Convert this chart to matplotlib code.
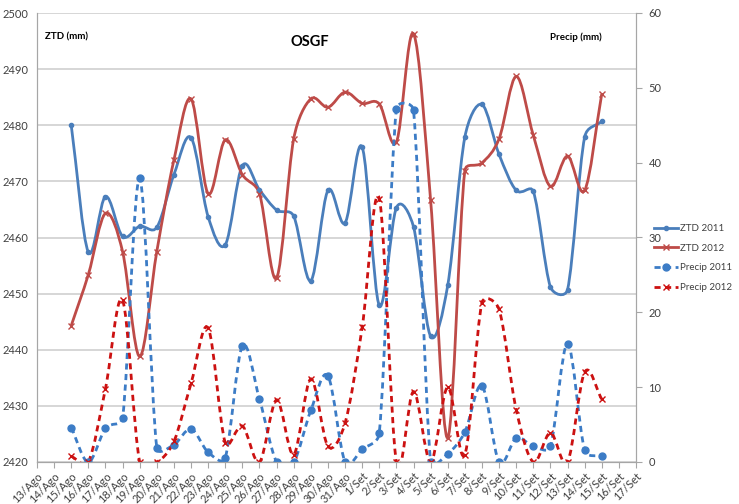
import numpy as np
import matplotlib
matplotlib.use("Agg")
import matplotlib.pyplot as plt
from matplotlib.path import Path
from matplotlib.patches import PathPatch
from matplotlib.lines import Line2D

plt.rcParams['font.family'] = ['Lato', 'DejaVu Sans']

# axis categories: 13/Ago .. 17/Set
day_labels = [f"{d}/Ago" for d in range(13, 32)] + [f"{d}/Set" for d in range(1, 18)]
first_day = "15/Ago"   # data run 15/Ago .. 15/Set

ztd_2011 = [2480.0, 2457.4, 2467.3, 2460.2, 2462.0, 2461.8, 2471.2, 2477.8,
            2463.7, 2458.7, 2472.8, 2468.5, 2464.9, 2463.8, 2452.3, 2468.4,
            2462.6, 2476.1, 2447.9, 2465.3, 2461.9, 2442.4, 2451.5, 2477.9,
            2483.7, 2474.8, 2468.4, 2468.2, 2451.2, 2450.7, 2477.9, 2480.7]
ztd_2012 = [2444.3, 2453.4, 2464.3, 2457.5, 2438.8, 2457.5, 2473.8, 2484.7,
            2467.8, 2477.4, 2471.2, 2467.8, 2452.8, 2477.6, 2484.7, 2483.2,
            2485.9, 2483.9, 2483.8, 2477.0, 2496.3, 2466.6, 2424.3, 2471.9,
            2473.3, 2477.6, 2488.7, 2478.2, 2469.1, 2474.5, 2468.4, 2485.6]
precip_2011 = [4.6, 0.0, 4.5, 5.9, 37.9, 1.9, 2.3, 4.4,
               1.3, 0.6, 15.5, 8.4, 0.0, 0.0, 6.9, 11.5,
               0.0, 1.7, 3.9, 47.2, 47.0, 0.0, 1.1, 4.0,
               10.2, 0.0, 3.2, 2.1, 2.1, 15.8, 1.6, 0.75]
precip_2012 = [0.75, 0.0, 9.8, 21.6, 0.0, 0.0, 2.75, 10.5,
               17.9, 2.6, 4.8, 0.0, 8.3, 1.0, 11.1, 2.1,
               5.2, 18.0, 35.2, 0.0, 9.4, 0.0, 10.0, 1.0,
               21.3, 20.4, 7.0, 0.0, 3.9, 0.0, 12.0, 8.4]

BLUE = '#4A7EBB'
BLUE2 = '#3C7CC6'
RED = '#BE4B48'
RED2 = '#CC1111'
GRID = '#D0D0D0'
AXC = '#A6A6A6'
TXT = '#404040'
DASH = (0, (2.2, 1.6))


def smooth_path(axis, x, y):
    # Excel-style smoothed line: Bezier segments, handles limited to half
    # the segment length, worked out in pixel space
    tr = axis.transData
    pts = tr.transform(np.column_stack([x, y]).astype(float))
    n = len(pts)
    dist = lambda a, b: np.hypot(*(a - b))
    verts = [pts[0]]
    codes = [Path.MOVETO]
    for i in range(n - 1):
        p1 = pts[i]
        p2 = pts[i + 1]
        p0 = pts[i - 1] if i > 0 else p1
        p3 = pts[i + 2] if i + 2 < n else p2
        d12 = dist(p1, p2)
        d02 = dist(p0, p2)
        d13 = dist(p1, p3)
        f = 1 / 6 if i > 0 else 1 / 3
        g = 1 / 6 if i + 2 < n else 1 / 3
        if d02 * f > d12 / 2:
            f = d12 / 2 / d02
        if d13 * g > d12 / 2:
            g = d12 / 2 / d13
        verts += [p1 + f * (p2 - p0), p2 - g * (p3 - p1), p2]
        codes += [Path.CURVE4] * 3
    return Path(tr.inverted().transform(np.array(verts)), codes)


def draw_series(axis, x, y, color, ls, marker, ms):
    axis.add_patch(PathPatch(smooth_path(axis, x, y), fill=False, edgecolor=color,
                             lw=2.0, linestyle=ls, capstyle='butt'))
    axis.plot(x, y, linestyle='none', marker=marker, color=color, ms=ms,
              mew=1.0, mec=color)


fig = plt.figure(figsize=(7.39, 5.04), dpi=100)
ax = fig.add_axes([37 / 739, 1 - 462 / 504, 599 / 739, 449 / 504])
ax2 = ax.twinx()

ax.set_xlim(0, len(day_labels) - 1)
ax.set_ylim(2420, 2500)
ax2.set_ylim(0, 60)

start = day_labels.index(first_day)
x = np.arange(start, start + len(ztd_2011))

draw_series(ax, x, ztd_2011, BLUE, '-', 'o', 3)
draw_series(ax, x, ztd_2012, RED, '-', 'x', 4.5)
draw_series(ax2, x, precip_2011, BLUE2, DASH, 'o', 5)
draw_series(ax2, x, precip_2012, RED2, DASH, 'x', 4.5)

ax.set_xticks(range(len(day_labels)))
ax.set_xticklabels(day_labels, rotation=45, ha='right', rotation_mode='anchor')
ax.set_yticks(range(2420, 2501, 10))
ax2.set_yticks(range(0, 61, 10))

ax.grid(axis='y', color=GRID, lw=1.2)
ax.set_axisbelow(True)
ax.tick_params(axis='x', length=4, color=AXC, labelsize=8, labelcolor=TXT, pad=2)
ax.tick_params(axis='y', length=0, labelsize=8, labelcolor=TXT, pad=6)
ax2.tick_params(axis='y', length=4, color=AXC, labelsize=8, labelcolor=TXT, pad=5)

for a in (ax, ax2):
    a.spines['top'].set_visible(False)
    for s in ('left', 'right', 'bottom'):
        a.spines[s].set_color(AXC)

ax.text(0.456, 0.935, 'OSGF', transform=ax.transAxes, ha='center', va='center',
        fontsize=10.5, fontweight='bold', color='black')
ax.text(0.013, 0.947, 'ZTD (mm)', transform=ax.transAxes, ha='left', va='center',
        fontsize=7, fontweight='bold', color='black')
ax.text(0.942, 0.947, 'Precip (mm)', transform=ax.transAxes, ha='right', va='center',
        fontsize=7, fontweight='bold', color='black')

handles = [
    Line2D([], [], color=BLUE, lw=2, marker='o', ms=3),
    Line2D([], [], color=RED, lw=2, marker='x', ms=4.5),
    Line2D([], [], color=BLUE2, lw=2, ls=DASH, marker='o', ms=5),
    Line2D([], [], color=RED2, lw=2, ls=DASH, marker='x', ms=4.5),
]
fig.legend(handles, ['ZTD 2011', 'ZTD 2012', 'Precip 2011', 'Precip 2012'],
           loc='center left', bbox_to_anchor=(0.885, 0.488), frameon=False,
           fontsize=7, handlelength=2.5, handletextpad=0.15, labelspacing=1.1,
           borderpad=0, borderaxespad=0, labelcolor=TXT)

fig.savefig('out.png', dpi=100)
